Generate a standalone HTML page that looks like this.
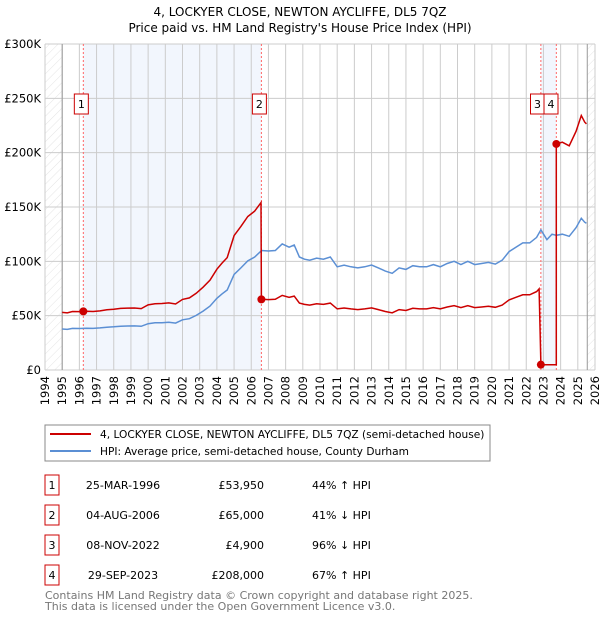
<!DOCTYPE html>
<html><head><meta charset="utf-8"><style>
body{margin:0;background:#fff;font-family:"DejaVu Sans","Liberation Sans",sans-serif;}
svg text{font-family:"DejaVu Sans","Liberation Sans",sans-serif;}
</style></head><body>
<svg id="c" width="600" height="620" xmlns="http://www.w3.org/2000/svg">
<defs><pattern id="hatch" width="6" height="6" patternUnits="userSpaceOnUse" patternTransform="rotate(45)"><line x1="0" y1="0" x2="0" y2="6" stroke="#ddd" stroke-width="0.8"/></pattern></defs>
<text x="300" y="16" text-anchor="middle" font-size="12">4, LOCKYER CLOSE, NEWTON AYCLIFFE, DL5 7QZ</text>
<text x="300" y="32" text-anchor="middle" font-size="12">Price paid vs. HM Land Registry's House Price Index (HPI)</text>
<g id="plot"></g>
<rect x="45" y="425" width="445" height="36" fill="#fff" stroke="#888"/>
<line x1="50" y1="434" x2="91" y2="434" stroke="#cc0000" stroke-width="2"/>
<text x="100" y="438" font-size="10.6">4, LOCKYER CLOSE, NEWTON AYCLIFFE, DL5 7QZ (semi-detached house)</text>
<line x1="50" y1="451" x2="91" y2="451" stroke="#5b8fd4" stroke-width="2"/>
<text x="100" y="455" font-size="10.6">HPI: Average price, semi-detached house, County Durham</text>
<g id="tbl"></g>
<text x="45" y="599" font-size="11" fill="#777">Contains HM Land Registry data © Crown copyright and database right 2025.</text>
<text x="45" y="610" font-size="11" fill="#777">This data is licensed under the Open Government Licence v3.0.</text>
</svg>
<script>
const hpiYears=[1995,1995.3,1995.6,1996,1996.4,1996.8,1997.2,1997.6,1998,1998.4,1998.8,1999.2,1999.6,2000,2000.4,2000.8,2001.2,2001.6,2002,2002.4,2002.8,2003.2,2003.6,2004,2004.3,2004.6,2005,2005.4,2005.8,2006.2,2006.6,2007,2007.4,2007.8,2008.2,2008.5,2008.8,2009.1,2009.4,2009.8,2010.2,2010.6,2011,2011.4,2011.8,2012.2,2012.6,2013,2013.4,2013.8,2014.2,2014.6,2015,2015.4,2015.8,2016.2,2016.6,2017,2017.4,2017.8,2018.2,2018.6,2019,2019.4,2019.8,2020.2,2020.6,2021,2021.4,2021.8,2022.2,2022.6,2022.85,2023.2,2023.5,2023.75,2024.1,2024.5,2024.9,2025.2,2025.4,2025.5];
const hpiValues=[37.7,37.4,38.3,38.2,38.5,38.3,38.7,39.4,39.8,40.3,40.5,40.6,40.2,42.6,43.4,43.5,43.9,43.2,46.2,47.2,50.2,54.2,58.8,66,70,73.6,88,94,100.5,104,110,109.5,110,116,113,115,104,102,101,103,102,104,95,96.5,95,94,95,96.6,94,91,89,94,92.6,96,95,95,97,95,98,100,97,100,97,98,99,97.5,101,109,113,117,117,122,129,120,125,124,125,123,131,139.6,136,135];
const saleYears=[1996.23,2006.59,2022.85,2023.75];
const salePrices=[53950,65000,4900,208000];
const yTicks=[0,50,100,150,200,250,300];
const yLabels=["£0","£50K","£100K","£150K","£200K","£250K","£300K"];
const xTicks=[1994,1995,1996,1997,1998,1999,2000,2001,2002,2003,2004,2005,2006,2007,2008,2009,2010,2011,2012,2013,2014,2015,2016,2017,2018,2019,2020,2021,2022,2023,2024,2025,2026];
const tblDates=["25-MAR-1996","04-AUG-2006","08-NOV-2022","29-SEP-2023"];
const tblPrices=["£53,950","£65,000","£4,900","£208,000"];
const tblPct=["44% ↑ HPI","41% ↓ HPI","96% ↓ HPI","67% ↑ HPI"];

const X0=45,X1=595,Y0=370,Y1=44;
const xs=y=>X0+(y-1994)/32*(X1-X0);
const ys=v=>Y0-v/300*(Y0-Y1);
const NS="http://www.w3.org/2000/svg";
const plot=document.getElementById('plot');
function mk(tag,attrs,parent){const e=document.createElementNS(NS,tag);for(const k in attrs)e.setAttribute(k,attrs[k]);(parent||plot).appendChild(e);return e;}
function hpiAt(t){if(t<=hpiYears[0])return hpiValues[0];for(let i=1;i<hpiYears.length;i++){if(t<=hpiYears[i]){const f=(t-hpiYears[i-1])/(hpiYears[i]-hpiYears[i-1]);return hpiValues[i-1]+f*(hpiValues[i]-hpiValues[i-1]);}}return hpiValues[hpiValues.length-1];}

let e;
e=mk('rect',{x:X0,y:Y1,width:X1-X0,height:Y0-Y1,fill:'#fff'});


for(const [a,b] of [[0,1],[2,3]]){
 e=mk('rect',{x:xs(saleYears[a]),y:Y1,width:xs(saleYears[b])-xs(saleYears[a]),height:Y0-Y1,fill:'#f2f6fd'});
 
 
}
e=mk('rect',{x:X0,y:Y1,width:xs(1995)-X0,height:Y0-Y1,fill:'url(#hatch)'});


e=mk('rect',{x:xs(2025.55),y:Y1,width:X1-xs(2025.55),height:Y0-Y1,fill:'url(#hatch)'});


xTicks.forEach(t=>{
 e=mk('line',{x1:xs(t),x2:xs(t),y1:Y1,y2:Y0,stroke:'#ccc','stroke-width':1});
 
 
 e=mk('text',{x:0,y:0,'font-size':11.5,'text-anchor':'end',transform:`translate(${xs(t)+4},${Y0+6}) rotate(-90)`});
 e.textContent=t;
 
 
});
yTicks.forEach((v,i)=>{
 e=mk('line',{x1:X0,x2:X1,y1:ys(v),y2:ys(v),stroke:'#ccc','stroke-width':1});
 
 
 e=mk('text',{x:X0-4,y:ys(v)+4,'font-size':11.5,'text-anchor':'end'});
 e.textContent=yLabels[i];
 
 
});
e=mk('line',{x1:xs(1995),x2:xs(1995),y1:Y1,y2:Y0,stroke:'#999'});


e=mk('line',{x1:xs(2025.55),x2:xs(2025.55),y1:Y1,y2:Y0,stroke:'#999'});


saleYears.forEach(s=>{
 e=mk('line',{x1:xs(s),x2:xs(s),y1:Y1,y2:Y0,stroke:'#f66','stroke-width':1,'stroke-dasharray':'2,2'});
 
 
});
let d=hpiYears.map((t,i)=>(i?'L':'M')+xs(t).toFixed(1)+','+ys(hpiValues[i]).toFixed(1)).join(' ');
e=mk('path',{d,fill:'none',stroke:'#5b8fd4','stroke-width':1.5});


const pts=[];
function seg(i,t0,t1){const r=salePrices[i]/1000/hpiAt(saleYears[i]);const ts=[t0,...hpiYears.filter(t=>t>t0&&t<t1),t1];ts.forEach(t=>pts.push([t,hpiAt(t)*r]));}
seg(0,1995,saleYears[1]-0.02);
seg(1,saleYears[1],saleYears[2]-0.1);
pts.push([saleYears[2],salePrices[2]/1000]);pts.push([saleYears[3],salePrices[2]/1000]);
seg(3,saleYears[3],2025.5);
d=pts.map((p,i)=>(i?'L':'M')+xs(p[0]).toFixed(1)+','+ys(p[1]).toFixed(1)).join(' ');
e=mk('path',{d,fill:'none',stroke:'#cc0000','stroke-width':1.5});


const boxX=[xs(saleYears[0])-2,xs(saleYears[1])-2,537.5,551];
saleYears.forEach((s,i)=>{
 e=mk('circle',{cx:xs(s),cy:ys(salePrices[i]/1000),r:4,fill:'#cc0000'});
 
 
 e=mk('rect',{x:boxX[i]-7,y:94,width:14,height:20,fill:'#fff',stroke:'#cc0000'});
 
 
 e=mk('text',{x:boxX[i],y:108,'font-size':11,'text-anchor':'middle'});
 e.textContent=i+1;
 
 
});
const tbl=document.getElementById('tbl');
tblDates.forEach((dt,i)=>{
 const y=475+i*30;
 e=mk('rect',{x:45,y:y,width:14,height:20,fill:'#fff',stroke:'#cc0000'},tbl);
 
 
 e=mk('text',{x:52,y:y+14,'font-size':11,'text-anchor':'middle'},tbl);e.textContent=i+1;
 
 
 e=mk('text',{x:123,y:y+14,'font-size':11,'text-anchor':'middle'},tbl);e.textContent=dt;
 
 
 e=mk('text',{x:264,y:y+14,'font-size':11,'text-anchor':'end'},tbl);e.textContent=tblPrices[i];
 
 
 e=mk('text',{x:312,y:y+14,'font-size':11},tbl);e.textContent=tblPct[i];
 
 
});
</script>
</body></html>
